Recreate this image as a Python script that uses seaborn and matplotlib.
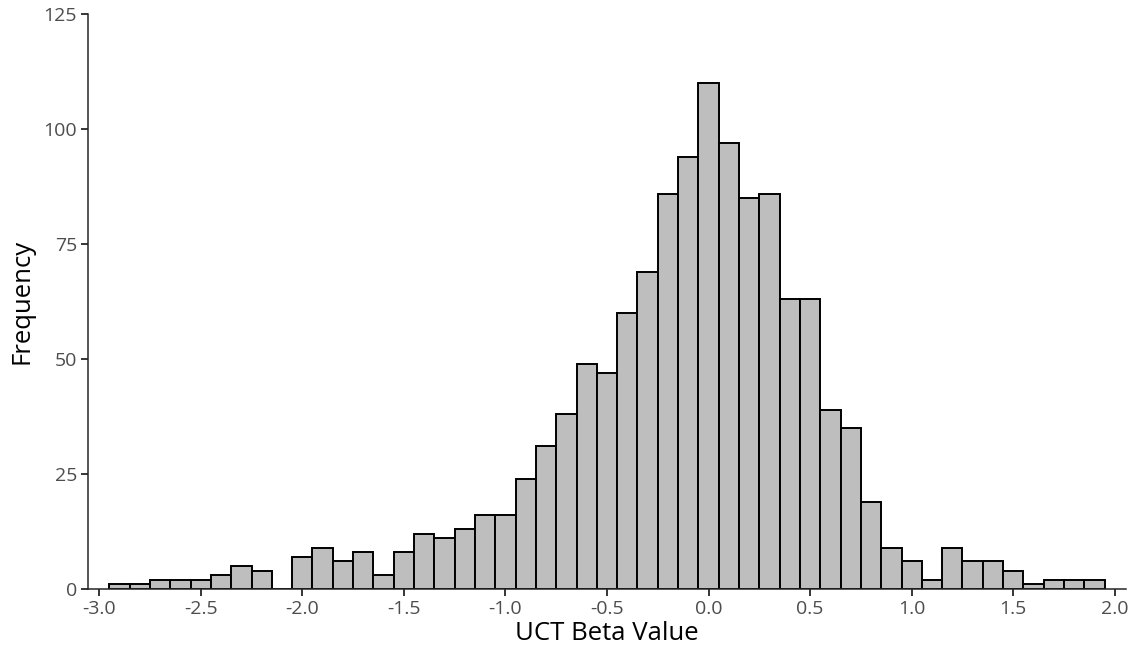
import numpy as np
import pandas as pd
import matplotlib
matplotlib.use("Agg")
import matplotlib.pyplot as plt
import seaborn as sns

# bin centres (width 0.1) and counts
bin_centers = [-2.9, -2.8, -2.7, -2.6, -2.5, -2.4, -2.3, -2.2, -2.1, -2.0,
               -1.9, -1.8, -1.7, -1.6, -1.5, -1.4, -1.3, -1.2, -1.1, -1.0,
               -0.9, -0.8, -0.7, -0.6, -0.5, -0.4, -0.3, -0.2, -0.1, 0.0,
               0.1, 0.2, 0.3, 0.4, 0.5, 0.6, 0.7, 0.8, 0.9, 1.0,
               1.1, 1.2, 1.3, 1.4, 1.5, 1.6, 1.7, 1.8, 1.9]
counts = [1, 1, 2, 2, 2, 3, 5, 4, 0, 7,
          9, 6, 8, 3, 8, 12, 11, 13, 16, 16,
          24, 31, 38, 49, 47, 60, 69, 86, 94, 110,
          97, 85, 86, 63, 63, 39, 35, 19, 9, 6,
          2, 9, 6, 6, 4, 1, 2, 2, 2]
x_ticks = [-3.0, -2.5, -2.0, -1.5, -1.0, -0.5, 0.0, 0.5, 1.0, 1.5, 2.0]
y_ticks = [0, 25, 50, 75, 100, 125]

df = pd.DataFrame({"beta": bin_centers, "n": counts})

sns.set_style("ticks")
plt.rcParams["font.family"] = ["Open Sans", "DejaVu Sans"]
plt.rcParams["axes.unicode_minus"] = False

fig = plt.figure(figsize=(11.33, 6.49), dpi=100)
ax = fig.add_axes([0.0777, 0.0924, 0.9161, 0.8856])

sns.histplot(data=df, x="beta", weights="n", binwidth=0.1,
             binrange=(-2.95, 1.95), ax=ax,
             color="#bebebe", edgecolor="black", linewidth=1.4, alpha=1)

ax.set_xlim(-3.055, 2.055)
ax.set_ylim(0, 125)
ax.set_xticks(x_ticks)
ax.set_xticklabels([f"{t:.1f}" for t in x_ticks])
ax.set_yticks(y_ticks)
ax.tick_params(axis="both", length=5, width=1.1, color="black",
               labelsize=14, labelcolor="#4d4d4d", pad=3)
for s in ["left", "bottom"]:
    ax.spines[s].set_linewidth(1.1)
sns.despine(ax=ax)

ax.set_xlabel("UCT Beta Value", fontsize=18.5, color="black", labelpad=2)
ax.set_ylabel("Frequency", fontsize=18.5, color="black", labelpad=6)

fig.savefig("out.png", dpi=100)
